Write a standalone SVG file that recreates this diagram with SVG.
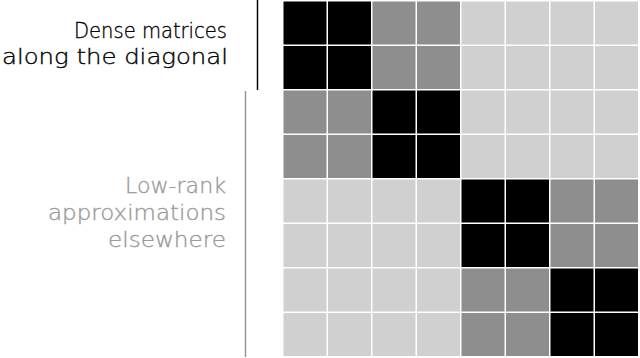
<svg xmlns="http://www.w3.org/2000/svg" width="640" height="358" viewBox="0 0 640 358">
<style>
.b{fill:#000}
.g{fill:#8e8e8e}
.l{fill:#d0d0d0}
.t1{font-family:"DejaVu Sans","Liberation Sans",sans-serif;font-weight:200;font-size:21px;fill:#000;stroke:#000;stroke-width:0.35;text-anchor:end}
.t2{font-family:"DejaVu Sans","Liberation Sans",sans-serif;font-weight:200;font-size:21px;fill:#9a9a9a;stroke:#9a9a9a;stroke-width:0.35;text-anchor:end}
</style>
<rect width="640" height="358" fill="#fff"/>
<g id="label-dense">
<text class="t1" x="227" y="38" textLength="153" lengthAdjust="spacingAndGlyphs">Dense matrices</text>
<text class="t1" x="228" y="64" textLength="226" lengthAdjust="spacingAndGlyphs">along the diagonal</text>
</g>
<g id="label-lowrank">
<text class="t2" x="226" y="193" textLength="101" lengthAdjust="spacingAndGlyphs">Low-rank</text>
<text class="t2" x="226" y="220" textLength="178" lengthAdjust="spacingAndGlyphs">approximations</text>
<text class="t2" x="226" y="247" textLength="118" lengthAdjust="spacingAndGlyphs">elsewhere</text>
</g>
<g id="connectors">
<line x1="257.5" y1="0" x2="257.5" y2="90" stroke="#000" stroke-width="1.5"/>
<line x1="245.5" y1="91" x2="245.5" y2="357" stroke="#999" stroke-width="1.5"/>
</g>
<g id="matrix">
<rect class="b" x="283.5" y="1.5" width="43" height="43"/><rect class="b" x="328" y="1.5" width="43" height="43"/><rect class="g" x="372.5" y="1.5" width="43" height="43"/><rect class="g" x="417" y="1.5" width="43" height="43"/><rect class="l" x="461.5" y="1.5" width="43" height="43"/><rect class="l" x="506" y="1.5" width="43" height="43"/><rect class="l" x="550.5" y="1.5" width="43" height="43"/><rect class="l" x="595" y="1.5" width="43" height="43"/>
<rect class="b" x="283.5" y="46" width="43" height="43"/><rect class="b" x="328" y="46" width="43" height="43"/><rect class="g" x="372.5" y="46" width="43" height="43"/><rect class="g" x="417" y="46" width="43" height="43"/><rect class="l" x="461.5" y="46" width="43" height="43"/><rect class="l" x="506" y="46" width="43" height="43"/><rect class="l" x="550.5" y="46" width="43" height="43"/><rect class="l" x="595" y="46" width="43" height="43"/>
<rect class="g" x="283.5" y="90.5" width="43" height="43"/><rect class="g" x="328" y="90.5" width="43" height="43"/><rect class="b" x="372.5" y="90.5" width="43" height="43"/><rect class="b" x="417" y="90.5" width="43" height="43"/><rect class="l" x="461.5" y="90.5" width="43" height="43"/><rect class="l" x="506" y="90.5" width="43" height="43"/><rect class="l" x="550.5" y="90.5" width="43" height="43"/><rect class="l" x="595" y="90.5" width="43" height="43"/>
<rect class="g" x="283.5" y="135" width="43" height="43"/><rect class="g" x="328" y="135" width="43" height="43"/><rect class="b" x="372.5" y="135" width="43" height="43"/><rect class="b" x="417" y="135" width="43" height="43"/><rect class="l" x="461.5" y="135" width="43" height="43"/><rect class="l" x="506" y="135" width="43" height="43"/><rect class="l" x="550.5" y="135" width="43" height="43"/><rect class="l" x="595" y="135" width="43" height="43"/>
<rect class="l" x="283.5" y="179.5" width="43" height="43"/><rect class="l" x="328" y="179.5" width="43" height="43"/><rect class="l" x="372.5" y="179.5" width="43" height="43"/><rect class="l" x="417" y="179.5" width="43" height="43"/><rect class="b" x="461.5" y="179.5" width="43" height="43"/><rect class="b" x="506" y="179.5" width="43" height="43"/><rect class="g" x="550.5" y="179.5" width="43" height="43"/><rect class="g" x="595" y="179.5" width="43" height="43"/>
<rect class="l" x="283.5" y="224" width="43" height="43"/><rect class="l" x="328" y="224" width="43" height="43"/><rect class="l" x="372.5" y="224" width="43" height="43"/><rect class="l" x="417" y="224" width="43" height="43"/><rect class="b" x="461.5" y="224" width="43" height="43"/><rect class="b" x="506" y="224" width="43" height="43"/><rect class="g" x="550.5" y="224" width="43" height="43"/><rect class="g" x="595" y="224" width="43" height="43"/>
<rect class="l" x="283.5" y="268.5" width="43" height="43"/><rect class="l" x="328" y="268.5" width="43" height="43"/><rect class="l" x="372.5" y="268.5" width="43" height="43"/><rect class="l" x="417" y="268.5" width="43" height="43"/><rect class="g" x="461.5" y="268.5" width="43" height="43"/><rect class="g" x="506" y="268.5" width="43" height="43"/><rect class="b" x="550.5" y="268.5" width="43" height="43"/><rect class="b" x="595" y="268.5" width="43" height="43"/>
<rect class="l" x="283.5" y="313" width="43" height="43"/><rect class="l" x="328" y="313" width="43" height="43"/><rect class="l" x="372.5" y="313" width="43" height="43"/><rect class="l" x="417" y="313" width="43" height="43"/><rect class="g" x="461.5" y="313" width="43" height="43"/><rect class="g" x="506" y="313" width="43" height="43"/><rect class="b" x="550.5" y="313" width="43" height="43"/><rect class="b" x="595" y="313" width="43" height="43"/>
</g>
</svg>
